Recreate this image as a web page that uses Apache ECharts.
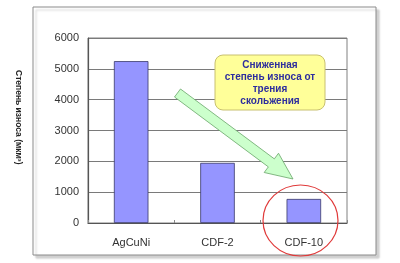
<!DOCTYPE html>
<html><head><meta charset="utf-8">
<script src="https://cdn.jsdelivr.net/npm/echarts@6/dist/echarts.min.js"></script>
<style>html,body{margin:0;padding:0;background:#fff}#c{width:400px;height:263px}</style>
</head><body><div id="c"></div>
<script>
const categories = ['AgCuNi', 'CDF-2', 'CDF-10'];
const wearValues = [5250, 1950, 780];
const yTicks = [0, 1000, 2000, 3000, 4000, 5000, 6000];
const yTitle = 'Степень износа (мкм³)';
const noteLines = ['Сниженная', 'степень износа от', 'трения', 'скольжения'];

const chart = echarts.init(document.getElementById('c'), null, {renderer: 'canvas'});

function arrowPts(tx, ty, hx, hy, sw, hw, hl) {
  const dx = hx - tx, dy = hy - ty, L = Math.hypot(dx, dy);
  const ux = dx / L, uy = dy / L, nx = -uy, ny = ux;
  const bx = hx - ux * hl, by = hy - uy * hl;
  return [
    [tx + nx * sw, ty + ny * sw], [bx + nx * sw, by + ny * sw], [bx + nx * hw, by + ny * hw],
    [hx, hy],
    [bx - nx * hw, by - ny * hw], [bx - nx * sw, by - ny * sw], [tx - nx * sw, ty - ny * sw]
  ];
}

chart.setOption({
  animation: false,
  textStyle: {fontFamily: 'Liberation Sans, Arial, sans-serif'},
  grid: {left: 88, top: 38, right: 53, bottom: 40, show: true, borderColor: '#808080', borderWidth: 1},
  xAxis: {
    type: 'category', data: categories,
    axisLine: {lineStyle: {color: '#555', width: 1.2}},
    axisTick: {show: true, inside: true, length: 3, lineStyle: {color: '#888'}},
    axisLabel: {color: '#333', fontSize: 11, margin: 14}
  },
  yAxis: {
    type: 'value', min: yTicks[0], max: yTicks[yTicks.length - 1], interval: 1000,
    axisLine: {show: true, lineStyle: {color: '#555', width: 1.2}},
    axisTick: {show: false},
    axisLabel: {color: '#333', fontSize: 11, margin: 9, formatter: v => String(v)},
    splitLine: {lineStyle: {color: '#7a7a7a', width: 1}}
  },
  series: [{
    type: 'bar', data: wearValues, barWidth: '40%',
    itemStyle: {color: '#9595ff', borderColor: '#3a3a6a', borderWidth: 0.8}
  }],
  graphic: [
    {type: 'rect', z: -10, shape: {x: 33, y: 7, width: 343, height: 248},
     style: {fill: '#fff', stroke: '#8a8a8a', lineWidth: 1, shadowColor: 'rgba(0,0,0,0.18)', shadowOffsetX: 3, shadowOffsetY: 3, shadowBlur: 2}},
    {type: 'text', rotation: -Math.PI / 2, position: [23, 70],
     style: {text: yTitle, font: 'bold 8.5px Liberation Sans, Arial, sans-serif', fill: '#222'}},
    {type: 'polygon', z: 50, shape: {points: arrowPts(177.5, 93, 293, 179, 5, 12, 27)},
     style: {fill: '#ccffcc', stroke: '#6aa56a', lineWidth: 0.8}},
    {type: 'rect', z: 60, shape: {x: 215, y: 55, width: 110, height: 55, r: 8},
     style: {fill: '#ffff99', stroke: '#c8c070', lineWidth: 1}},
    {type: 'text', z: 61, style: {text: noteLines.join('\n'), x: 270, y: 83, align: 'center', verticalAlign: 'middle',
     font: 'bold 10px Liberation Sans, Arial, sans-serif', fill: '#2d2d9e', lineHeight: 12}},
    {type: 'ellipse', z: 70, shape: {cx: 300.5, cy: 220.5, rx: 37.5, ry: 35.5},
     style: {fill: 'none', stroke: '#e03a3a', lineWidth: 1.2}}
  ]
});
</script></body></html>
